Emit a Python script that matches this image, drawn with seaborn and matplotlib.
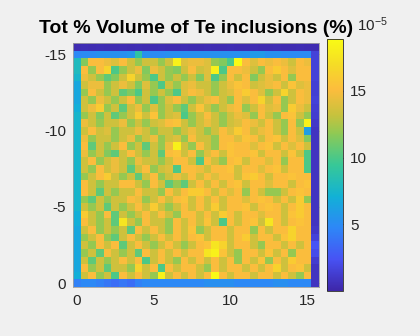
import numpy as np
import matplotlib
matplotlib.use("Agg")
import matplotlib.pyplot as plt
import seaborn as sns
from matplotlib.colors import LinearSegmentedColormap

# ---- data (values in units of 1e-5 %) ----
title = "Tot % Volume of Te inclusions (%)"
x_tick_values = [0, 5, 10, 15]
y_tick_values = [-15, -10, -5, 0]
cbar_ticks = [5, 10, 15]
cell_step = 0.5  # grid spacing of the map (axis units)

top_row = [0.3, 0.4, 0.3, 0.4, 0.3, 0.3, 0.4, 0.3, 0.4, 0.3, 0.3, 0.4, 0.3, 0.3, 0.4, 0.3,
           0.3, 0.4, 0.3, 0.3, 0.4, 0.3, 0.3, 0.4, 0.3, 0.3, 0.4, 0.3, 0.3, 0.4, 0.3, 0.3]
second_row = [4.8, 5.0, 5.0, 5.3, 5.3, 5.3, 5.3, 5.6, 9.0, 5.3, 5.0, 5.0, 5.3, 5.3, 5.3, 5.3,
              5.3, 5.3, 5.3, 5.3, 5.3, 5.3, 5.3, 5.8, 5.8, 5.3, 5.3, 5.0, 5.0, 5.0, 5.0, 1.5]
bottom_row = [4.5, 4.8, 4.8, 4.5, 4.0, 3.6, 4.0, 3.6, 4.5, 4.8, 4.8, 4.8, 4.8, 4.8, 4.8, 4.8,
              4.8, 5.2, 5.2, 5.2, 5.2, 4.8, 4.8, 4.8, 4.8, 4.8, 5.2, 5.2, 4.8, 4.8, 4.8, 0.8]
left_col = [8.0, 8.0, 7.5, 6.5, 6.5, 6.5, 7.0, 7.5, 7.5, 7.5, 7.5, 7.5, 7.5, 7.5, 7.5,
            7.5, 7.5, 7.5, 7.5, 7.5, 7.0, 7.0, 6.5, 6.5, 6.5, 6.5, 6.5, 6.5, 7.0]
right_col = [1.5, 1.5, 1.5, 1.4, 1.4, 1.5, 1.3, 1.2, 1.0, 0.8, 0.8, 0.8, 0.8, 0.8, 0.8,
             0.8, 0.8, 0.8, 0.8, 0.8, 0.8, 0.8, 1.0, 1.5, 2.5, 2.0, 1.2, 0.8, 0.8]
interior = [
    [11.5,15,15,14.5,14,15,13.5,12,13.5,13.5,12,13.5,18.3,14,14.5,14.5,14,12,11.5,10,18.8,15,14,15,14.5,15,14.5,13.5,15,14.5],
    [15,12,15,16.5,10,12,13.5,14.5,11.5,14.5,13.5,12,11.5,13.5,15,13.5,14,18.3,10,15,15,14.5,13.5,12,15,16,15,14,15,15],
    [14.5,13.5,12,10.5,11.5,13.5,16.5,13.5,12,10,13.5,12,13.5,12,13.5,11.5,14,10,12,15,13.5,15,11.5,13.5,14.5,13.5,15,12,15,15],
    [13.5,14.5,14.5,12,13.5,14.5,13.5,11.5,14,12,10,13.5,12,14,14.5,13.5,13.5,12,13.5,14.5,15.5,15,13.5,14,14.5,15,13.5,15.5,14,14.5],
    [12,15,13.5,12,13.5,10.5,11.5,10,13.5,12,13.5,12,10,14,15,14.5,13.5,12,13.5,14,15,16,15,14,12,13.5,16.5,13.5,15,14.5],
    [13.5,12,14.5,13.5,12,13.5,15,12,13.5,10,12,14,15,13.5,12,13.5,14.5,15,13.5,12,15,14,15,16.5,13.5,15,12,13.5,15,14.5],
    [13.5,14.5,16,12,13.5,10.5,13.5,14.5,12,14,12,13.5,12,10.5,13.5,15.5,13.5,12,13.5,14.5,15,12,13.5,15,14,14.5,12,16,14.5,13.5],
    [12,13.5,11.5,13.5,10.5,12,13.5,16,13.5,15.5,12,13.5,14,10,12,13.5,15,13.5,12,13.5,14.5,14,12,15,13.5,12,15,15.5,13.5,12],
    [14.5,13.5,12,13.5,13.5,14.5,12,13.5,12,13.5,14,15,15.5,13.5,12,13.5,14.5,13.5,12,13.5,14,15,14.5,13.5,15,13.5,12,15,12,18.3],
    [13.5,15,13.5,14,12,13.5,13.5,14.5,13.5,12,13.5,13.5,12,13.5,14.5,13.5,12,13.5,15,14,16,15,13.5,14.5,15,13.5,12,15,13.5,6],
    [14.5,12,13.5,13.5,12,13.5,14.5,12,13.5,14.5,12,13.5,14,12,15,13.5,13.5,12,15,15,14,15.5,15,13.5,15,15.5,13.5,15,14,11.5],
    [15,10.5,13.5,12,13.5,15,12,13.5,10.5,13.5,12,14.5,18.3,13.5,12,15,13.5,12,15,15.5,15,15,14,15,15.5,13.5,15,14,15,13.5],
    [14.5,12,13.5,11.5,10.5,13.5,15,13.5,12,13.5,10.5,15,15.5,13.5,15,12,14,15,13.5,15.5,15,15,15.5,13.5,15,15,13.5,15.5,13.5,10],
    [13.5,15,12,13.5,14.5,13.5,12,14.5,13.5,13.5,12,13.5,15,15,13.5,10,15,13.5,12,15,15.5,13.5,15,15,14,15,12,15,15,10],
    [13.5,12,15,13.5,14.5,13.5,10.5,13.5,15,12,13.5,14,10,15,15,14.5,13.5,15,15,15.5,13.5,15,15,14,15,15.5,13.5,15,15,10],
    [12,13.5,15,16,13.5,12,13.5,10.5,13.5,15,12,13.5,14.5,13.5,15,13.5,15,14,15,15,13.5,15.5,16,15,13.5,15,15,15.5,15,15],
    [15,13.5,12,13.5,13.5,15,15,13.5,12,15,13.5,10.5,12,10.5,13.5,15,13.5,15,13.5,15,15.5,13.5,15,15,14,15,15,13.5,15,15.5],
    [15,13.5,10.5,13.5,12,13.5,13.5,15,13.5,13.5,12,15,13.5,15,16,16,15,13.5,15,14,15,12,15,13.5,12,12,13.5,15,15.5,15],
    [12,10.5,13.5,12,13.5,13.5,15,14.5,12,13.5,15,13.5,15,15.5,13.5,15,13.5,15,13.5,15,15,14,15,15.5,15,13.5,15,13.5,16,12],
    [13.5,12,13.5,10.5,13.5,12,13.5,15,13.5,16,13.5,12,13.5,15,13.5,15,13.5,16,13.5,15,15,15.5,13.5,15,15.5,15,13.5,15,16,15],
    [16,13.5,12,15,10.5,13.5,12,13.5,15,13.5,15,13.5,12,15,15,13.5,15,13.5,16,15,13.5,15,15,14,15,15,13.5,15.5,16,15],
    [15,13.5,12,13.5,10.5,17.5,13.5,12,15,13.5,13.5,12,15,13.5,15,13.5,15.5,13.5,10,15,13.5,15,15.5,13.5,17.5,15,13.5,15,15.5,15],
    [13.5,15,12,13.5,12,13.5,10.5,15,13.5,15,13.5,12,15,13.5,15.5,12,13.5,15,15,13.5,15,15,12,15,13.5,15,15,16.5,15,15],
    [12,13.5,15,12,10.5,13.5,15,13.5,12,13.5,15,13.5,15,13.5,15,15.5,13.5,15,15,13.5,15,16,13.5,15,15,13.5,15.5,16.5,15,15],
    [13.5,12,15,13.5,15,10.5,13.5,15,13.5,12,13.5,15,13.5,12,13.5,15,15.5,17.5,16.5,13.5,15,15,13.5,12,15,15,13.5,15,13.5,15],
    [12,13.5,10.5,15,13.5,12,13.5,10.5,15,13.5,15,13.5,15,13.5,15,15,17.5,18.3,15.5,13.5,12,15,15,13.5,15.5,13.5,15,12,15,15],
    [13.5,10.5,13.5,12,13.5,15,13.5,15,10,13.5,15,13.5,12,15,13.5,15,13.5,15,13.5,15,12,15,13.5,15.5,12,15,13.5,16,15,15],
    [15,12,13.5,10.5,13.5,13.5,12,16.5,13.5,15,10,15,13.5,15,15,13.5,12,15,13.5,15,15,13.5,15,13.5,15,16.5,13.5,15,15.5,13.5],
    [13.5,15,12,13.5,10,15,13.5,15,13.5,12,18.3,13.5,15,13.5,15,13.5,15,18.8,15,13.5,15,15,13.5,15,15,13.5,15,13.5,12,15],
]
color_min, color_max = 0.0, 18.9

# ---- assemble grid (row 0 = y -15.5 at top, row 31 = y 0 at bottom) ----
middle = np.column_stack([np.array(left_col), np.array(interior), np.array(right_col)])
grid = np.vstack([np.array(top_row), np.array(second_row), middle, np.array(bottom_row)])
nrows, ncols = grid.shape

# ---- parula-like colormap ----
parula_anchors = [
    (0.000, (0.2422, 0.1504, 0.6603)),
    (0.125, (0.2810, 0.3228, 0.9579)),
    (0.250, (0.1786, 0.5289, 0.9682)),
    (0.375, (0.0689, 0.6948, 0.8394)),
    (0.500, (0.2161, 0.7843, 0.5923)),
    (0.625, (0.5592, 0.7899, 0.3302)),
    (0.700, (0.7800, 0.7600, 0.2400)),
    (0.800, (0.9900, 0.7400, 0.2400)),
    (0.900, (0.9600, 0.8600, 0.1500)),
    (1.000, (0.9769, 0.9839, 0.0805)),
]
parula = LinearSegmentedColormap.from_list("parula", parula_anchors, N=256)

sns.set_style("white")
plt.rcParams["font.family"] = ["Liberation Sans", "DejaVu Sans"]
plt.rcParams["mathtext.fontset"] = "custom"
plt.rcParams["mathtext.rm"] = "Liberation Sans"
plt.rcParams["mathtext.it"] = "Liberation Sans:italic"
plt.rcParams["mathtext.bf"] = "Liberation Sans:bold"

bg = "#f0f0f0"
fg = "#262626"
W, H = 420, 336
fig = plt.figure(figsize=(W / 100, H / 100), dpi=100, facecolor=bg)
ax = fig.add_axes([73 / W, 1 - 287 / H, 246 / W, 244 / H])
cax = fig.add_axes([327 / W, 1 - 291 / H, 16 / W, 252 / H])

sns.heatmap(grid, cmap=parula, vmin=color_min, vmax=color_max, ax=ax, cbar_ax=cax,
            xticklabels=False, yticklabels=False)

# axis ticks at data coordinates (cell centers spaced by cell_step)
ax.set_xticks([v / cell_step + 0.5 for v in x_tick_values])
ax.set_xticklabels([str(v) for v in x_tick_values], rotation=0)
ax.set_yticks([(nrows - 1) + v / cell_step + 0.5 for v in y_tick_values])
ax.set_yticklabels([str(v) for v in y_tick_values], rotation=0)
ax.tick_params(axis="both", direction="in", length=3, width=0.5, color=fg,
               labelsize=11, labelcolor=fg, top=True, right=True, pad=5)
for s in ax.spines.values():
    s.set_visible(True)
    s.set_linewidth(0.6)
    s.set_color("#a0a0a0")

ax.set_title(title, fontsize=14, fontweight="bold", color="black", pad=7)

cax.set_yticks(cbar_ticks)
cax.set_yticklabels([str(v) for v in cbar_ticks])
cax.tick_params(axis="y", direction="in", length=3, width=0.5, color=fg,
                labelsize=11, labelcolor=fg, pad=5)
cb = ax.collections[0].colorbar
cb.outline.set_visible(True)
cb.outline.set_linewidth(0.6)
cb.outline.set_edgecolor(fg)

fig.text(357 / W, 1 - 31 / H, r"$10^{-5}$", fontsize=11, color=fg, ha="left", va="baseline")

fig.savefig("out.png", dpi=100, facecolor=bg)
